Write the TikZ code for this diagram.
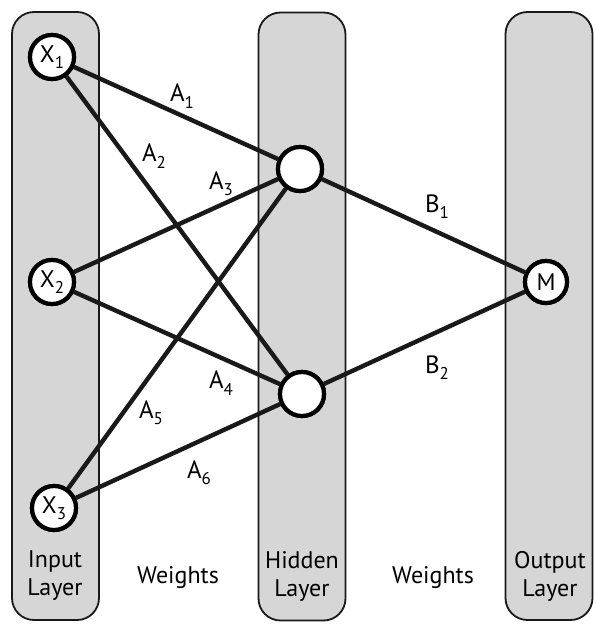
\documentclass[tikz,border=0pt]{standalone}
\usepackage{fontspec}
\setmainfont{PT Sans}
\newcommand{\sbs}[1]{\raisebox{-0.5ex}{\fontsize{17}{17}\selectfont #1}}
\begin{document}
\begin{tikzpicture}[x=1pt,y=-1pt,
 layer/.style={draw=black!90, line width=1.8pt, fill=gray!32, rounded corners=22pt, minimum width=87pt, minimum height=608pt, inner sep=0pt},
 neuron/.style={circle, draw=black, line width=4.2pt, fill=white, inner sep=0pt, minimum size=44pt, font=\fontsize{24}{24}\selectfont},
 conn/.style={line width=4.4pt, draw=black!90},
 lbl/.style={font=\fontsize{25}{28}\selectfont, inner sep=0pt},
 captext/.style={font=\fontsize{24}{28}\selectfont, align=center, inner sep=0pt}]
\useasboundingbox[fill=white] (0,0) rectangle (595,629);
\node[layer] (inL) at (55.5,316) {};
\node[layer] (hidL) at (302,316.5) {};
\node[layer] (outL) at (549,316) {};
% neurons
\node[neuron] (x1) at (52,57) {X\sbs{1}};
\node[neuron] (x2) at (52,282) {X\sbs{2}};
\node[neuron] (x3) at (54,508) {X\sbs{3}};
\node[neuron] (h1) at (300,169) {};
\node[neuron] (h2) at (302,394) {};
\node[neuron, minimum size=42pt] (m) at (546,282) {M};
% connections
\draw[conn] (x1) -- (h1);
\draw[conn] (x1) -- (h2);
\draw[conn] (x2) -- (h1);
\draw[conn] (x2) -- (h2);
\draw[conn] (x3) -- (h1);
\draw[conn] (x3) -- (h2);
\draw[conn] (h1) -- (m);
\draw[conn] (h2) -- (m);
% redraw neurons on top
\node[neuron] at (x1) {X\sbs{1}};
\node[neuron] at (x2) {X\sbs{2}};
\node[neuron] at (x3) {X\sbs{3}};
\node[neuron] at (h1) {};
\node[neuron] at (h2) {};
\node[neuron, minimum size=42pt] at (m) {M};
% weight labels
\node[lbl] (a1) at (182,96) {A\sbs{1}};
\node[lbl] (a2) at (154,156) {A\sbs{2}};
\node[lbl] (a3) at (221,184) {A\sbs{3}};
\node[lbl] (a4) at (221,383) {A\sbs{4}};
\node[lbl] (a5) at (151,413) {A\sbs{5}};
\node[lbl] (a6) at (199,473) {A\sbs{6}};
\node[lbl] (b1) at (437,207) {B\sbs{1}};
\node[lbl] (b2) at (437,368) {B\sbs{2}};
% captions
\node[captext] (cin) at (55,576) {Input\\Layer};
\node[captext] (cw1) at (178,578) {Weights};
\node[captext] (chid) at (302,576) {Hidden\\Layer};
\node[captext] (cw2) at (433,578) {Weights};
\node[captext] (cout) at (550,576) {Output\\Layer};
\end{tikzpicture}
\end{document}
